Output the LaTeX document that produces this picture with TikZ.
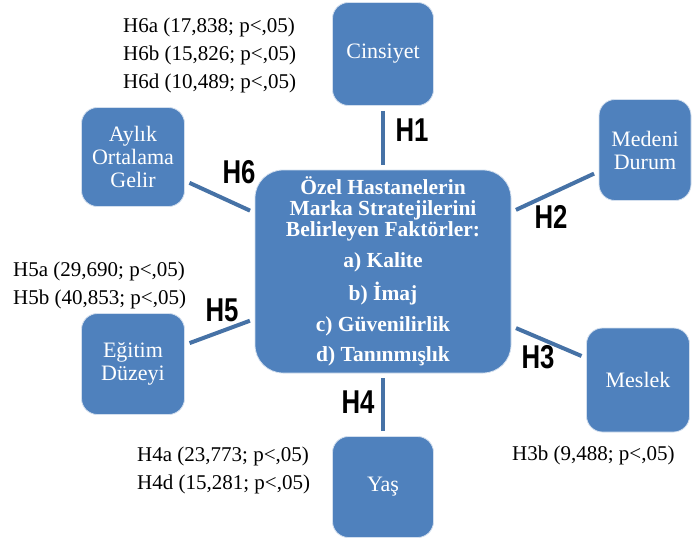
\documentclass[tikz,border=0pt]{standalone}
\usepackage{fontspec}
\setmainfont{Liberation Serif}
\newfontfamily\hfont[FakeStretch=0.78]{Liberation Sans}
\usepackage{tikz}
\usetikzlibrary{shapes, arrows}

\definecolor{kutumavi}{HTML}{4F81BD}

\begin{document}
\begin{tikzpicture}[
 x=1pt, y=-1pt,
 kutu/.style={draw=white!75!kutumavi, line width=0.8pt, fill=kutumavi, rounded corners=16pt,
  text=white, font=\fontsize{22}{23}\selectfont, align=center,
  minimum width=101pt, minimum height=101pt, inner sep=2pt},
 merkez/.style={kutu, rounded corners=28pt, minimum width=256pt, minimum height=203pt,
  font=\bfseries\fontsize{21.5}{21}\selectfont},
 bag/.style={draw=kutumavi!88!black, line width=4pt, shorten >=5pt, shorten <=5pt},
 hipotez/.style={font=\hfont\bfseries\fontsize{33}{33}\selectfont},
 sonuc/.style={anchor=west, align=left, inner sep=0pt, font=\fontsize{21}{28}\selectfont}
]
\useasboundingbox (0,0) rectangle (692,541);

\node [merkez] (faktor) at (383,271.5) {Özel Hastanelerin\\Marka Stratejilerini\\Belirleyen Faktörler:\\[9.5pt]
 a) Kalite\\[9.5pt] b) İmaj\\[9.5pt] c) Güvenilirlik\\[9.5pt] d) Tanınmışlık};

\node [kutu, minimum height=103pt] (cinsiyet) at (383,54) {Cinsiyet};
\node [kutu, minimum width=92pt] (medeni) at (645,150) {Medeni\\Durum};
\node [kutu, minimum width=103pt, minimum height=104pt] (meslek) at (638,380) {Meslek};
\node [kutu] (yas) at (383,487) {Yaş};
\node [kutu, minimum width=103pt] (egitim) at (133,364) {Eğitim\\Düzeyi};
\node [kutu, minimum width=103pt, minimum height=99pt] (gelir) at (133,157) {Aylık\\Ortalama\\Gelir};

\draw [bag] (cinsiyet) -- (faktor);
\draw [bag] (medeni) -- (faktor);
\draw [bag] (meslek) -- (faktor);
\draw [bag] (yas) -- (faktor);
\draw [bag] (egitim) -- (faktor);
\draw [bag] (gelir) -- (faktor);

\node [hipotez] (h1) at (412,130) {H1};
\node [hipotez] (h2) at (551,217) {H2};
\node [hipotez] (h3) at (538,357) {H3};
\node [hipotez] (h4) at (358,402) {H4};
\node [hipotez] (h5) at (222,310) {H5};
\node [hipotez] (h6) at (239,172) {H6};

\node [sonuc] (s6) at (123,55) {H6a (17,838; p<,05)\\H6b (15,826; p<,05)\\H6d (10,489; p<,05)};
\node [sonuc] (s5) at (13,285) {H5a (29,690; p<,05)\\H5b (40,853; p<,05)};
\node [sonuc] (s4) at (137,470) {H4a (23,773; p<,05)\\H4d (15,281; p<,05)};
\node [sonuc] (s3) at (512,455) {H3b (9,488; p<,05)};
\end{tikzpicture}
\end{document}
